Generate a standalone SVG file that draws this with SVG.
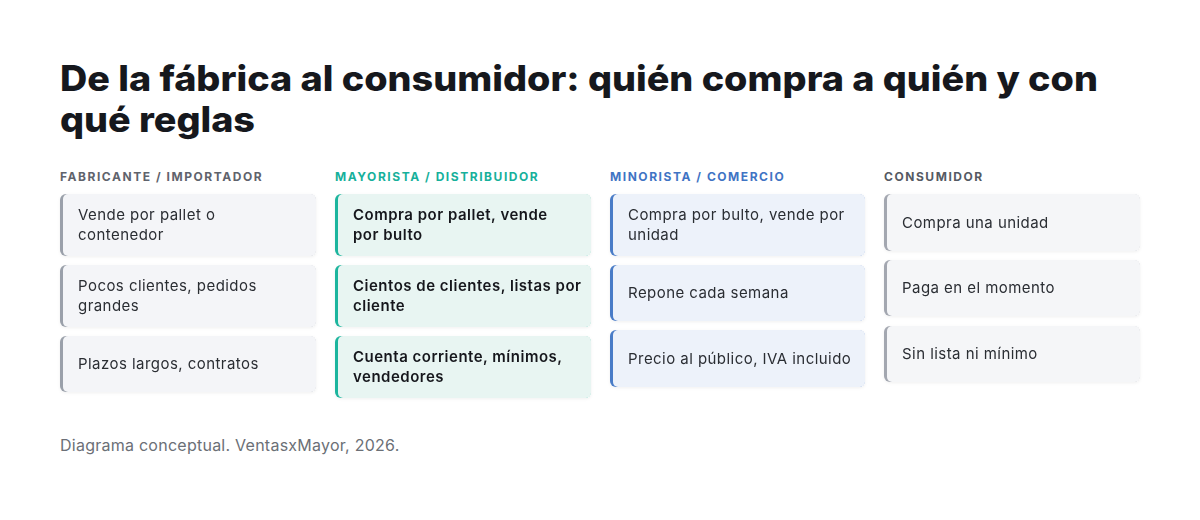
<svg xmlns="http://www.w3.org/2000/svg" width="1200" height="520" viewBox="0 0 1200 520">
<defs>
<filter id="sh" x="-5%" y="-10%" width="110%" height="130%">
<feDropShadow dx="0" dy="1" stdDeviation="1.5" flood-color="#1a2233" flood-opacity="0.06"/>
</filter>
</defs>
<style>
.title{font-family:Inter,"Liberation Sans",sans-serif;font-weight:800;font-size:35px;fill:#16181d}
.hd{font-family:Inter,"Liberation Sans",sans-serif;font-weight:700;font-size:12px;letter-spacing:1.55px}
.t{font-family:Inter,"Liberation Sans",sans-serif;font-size:15px;letter-spacing:0.45px;fill:#2a2d33}
.b{font-weight:600;fill:#16181d;letter-spacing:0.5px}
.foot{font-family:Inter,"Liberation Sans",sans-serif;font-size:16px;letter-spacing:0.25px;fill:#6b6f76}
.c1 .bd{fill:#9aa0aa}.c1 .bg{fill:#f4f5f8}
.c2 .bd{fill:#1fb59e}.c2 .bg{fill:#e8f5f2}
.c3 .bd{fill:#4a7cc7}.c3 .bg{fill:#edf2fa}
.c4 .bd{fill:#a3a7b0}.c4 .bg{fill:#f5f6f8}
</style>
<rect width="1200" height="520" fill="#ffffff"/>
<text class="title" x="60" y="91" textLength="1038" lengthAdjust="spacingAndGlyphs">De la fábrica al consumidor: quién compra a quién y con</text>
<text class="title" x="60" y="132" textLength="195" lengthAdjust="spacingAndGlyphs">qué reglas</text>

<text class="hd" x="60" y="181" fill="#5f636c">FABRICANTE / IMPORTADOR</text>
<text class="hd" x="335" y="181" fill="#17b09b">MAYORISTA / DISTRIBUIDOR</text>
<text class="hd" x="610" y="181" fill="#3f74c4">MINORISTA / COMERCIO</text>
<text class="hd" x="884" y="181" fill="#555a63">CONSUMIDOR</text>

<g id="connectors"></g>

<g class="c1">
<g id="n1a" filter="url(#sh)"><rect class="bd" x="60" y="194" width="256" height="62" rx="6"/><rect class="bg" x="63" y="194" width="253" height="62" rx="5"/>
<text class="t" x="78" y="220">Vende por pallet o</text><text class="t" x="78" y="240">contenedor</text></g>
<g id="n1b" filter="url(#sh)"><rect class="bd" x="60" y="265" width="256" height="62" rx="6"/><rect class="bg" x="63" y="265" width="253" height="62" rx="5"/>
<text class="t" x="78" y="291">Pocos clientes, pedidos</text><text class="t" x="78" y="311">grandes</text></g>
<g id="n1c" filter="url(#sh)"><rect class="bd" x="60" y="336" width="256" height="56" rx="6"/><rect class="bg" x="63" y="336" width="253" height="56" rx="5"/>
<text class="t" x="78" y="369">Plazos largos, contratos</text></g>
</g>

<g class="c2">
<g id="n2a" filter="url(#sh)"><rect class="bd" x="335" y="194" width="256" height="62" rx="6"/><rect class="bg" x="338" y="194" width="253" height="62" rx="5"/>
<text class="t b" x="353" y="220">Compra por pallet, vende</text><text class="t b" x="353" y="240">por bulto</text></g>
<g id="n2b" filter="url(#sh)"><rect class="bd" x="335" y="265" width="256" height="62" rx="6"/><rect class="bg" x="338" y="265" width="253" height="62" rx="5"/>
<text class="t b" x="353" y="291">Cientos de clientes, listas por</text><text class="t b" x="353" y="311">cliente</text></g>
<g id="n2c" filter="url(#sh)"><rect class="bd" x="335" y="336" width="256" height="62" rx="6"/><rect class="bg" x="338" y="336" width="253" height="62" rx="5"/>
<text class="t b" x="353" y="362">Cuenta corriente, mínimos,</text><text class="t b" x="353" y="382">vendedores</text></g>
</g>

<g class="c3">
<g id="n3a" filter="url(#sh)"><rect class="bd" x="610" y="194" width="255" height="62" rx="6"/><rect class="bg" x="613" y="194" width="252" height="62" rx="5"/>
<text class="t" x="628" y="220">Compra por bulto, vende por</text><text class="t" x="628" y="240">unidad</text></g>
<g id="n3b" filter="url(#sh)"><rect class="bd" x="610" y="265" width="255" height="56" rx="6"/><rect class="bg" x="613" y="265" width="252" height="56" rx="5"/>
<text class="t" x="628" y="298">Repone cada semana</text></g>
<g id="n3c" filter="url(#sh)"><rect class="bd" x="610" y="330" width="255" height="57" rx="6"/><rect class="bg" x="613" y="330" width="252" height="57" rx="5"/>
<text class="t" x="628" y="364">Precio al público, IVA incluido</text></g>
</g>

<g class="c4">
<g id="n4a" filter="url(#sh)"><rect class="bd" x="884" y="194" width="256" height="57" rx="6"/><rect class="bg" x="887" y="194" width="253" height="57" rx="5"/>
<text class="t" x="902" y="228">Compra una unidad</text></g>
<g id="n4b" filter="url(#sh)"><rect class="bd" x="884" y="260" width="256" height="56" rx="6"/><rect class="bg" x="887" y="260" width="253" height="56" rx="5"/>
<text class="t" x="902" y="293">Paga en el momento</text></g>
<g id="n4c" filter="url(#sh)"><rect class="bd" x="884" y="326" width="256" height="56" rx="6"/><rect class="bg" x="887" y="326" width="253" height="56" rx="5"/>
<text class="t" x="902" y="359">Sin lista ni mínimo</text></g>
</g>

<text class="foot" x="60" y="451">Diagrama conceptual. VentasxMayor, 2026.</text>
</svg>
